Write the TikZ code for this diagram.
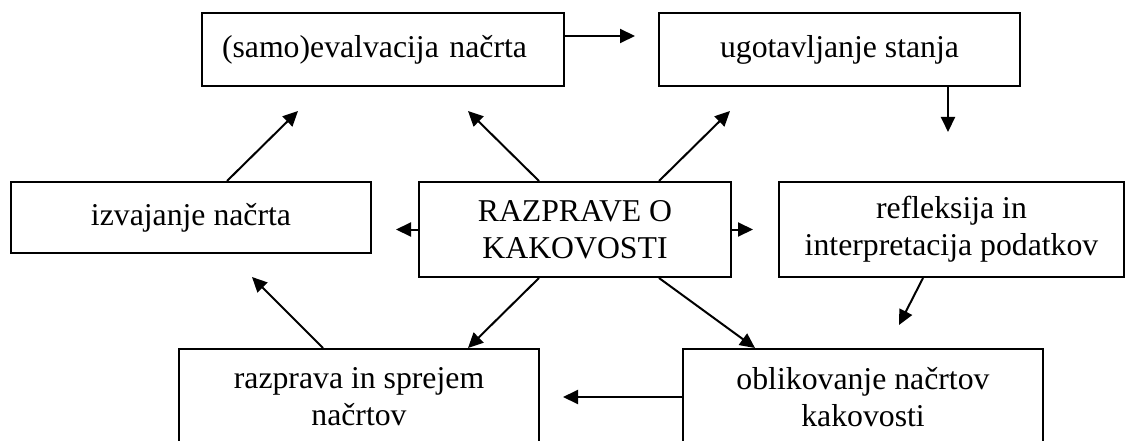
\documentclass[tikz,border=0pt]{standalone}
\usepackage{fontspec}
\setmainfont{Liberation Serif}
\usetikzlibrary{arrows.meta}

\begin{document}
\begin{tikzpicture}[x=1pt, y=-1pt, >={Triangle[length=15pt, width=14pt]},
  box/.style={draw=black, line width=2pt, fill=white, inner sep=0pt, align=center,
    font=\fontsize{31.75}{37}\selectfont},
  conn/.style={draw=black, line width=2pt, ->}]
\useasboundingbox (0, 0) rectangle (1126, 441);
\clip (0, 0) rectangle (1126, 441);
\node[box, minimum width=362pt, minimum height=73pt, text width=322pt, align=left, inner xsep=20pt] (samo) at (383, 49.5) {(samo)evalvacija načrta};
\node[box, minimum width=361pt, minimum height=73pt] (ugot) at (839.5, 49.5) {ugotavljanje stanja};
\node[box, minimum width=360pt, minimum height=71pt] (izv) at (191, 217.5) {izvajanje načrta};
\node[box, minimum width=312pt, minimum height=95pt] (raz) at (575, 229.5) {RAZPRAVE O\\KAKOVOSTI};
\node[box, minimum width=345pt, minimum height=95pt] (refl) at (951.5, 229.5) {refleksija in\\interpretacija podatkov};
\node[box, minimum width=360pt, minimum height=96pt] (razp) at (359, 397) {razprava in sprejem\\načrtov};
\node[box, minimum width=360pt, minimum height=96pt] (obl) at (863, 397) {oblikovanje načrtov\\kakovosti};
\coordinate (t1) at (635, 36);
\coordinate (t2) at (948, 132);
\coordinate (t3) at (899, 325);
\coordinate (t6) at (563, 397);
\coordinate (t7) at (252, 277);
\coordinate (t8) at (298, 111);
\coordinate (t9) at (468, 111);
\coordinate (t10) at (730, 111);
\coordinate (t11) at (396, 229.5);
\coordinate (t12) at (753, 229.5);
\draw [conn] (samo.east |- t1) -- (t1);
\draw [conn] (ugot.south -| t2) -- (t2);
\draw [conn] ([xshift=-28.5pt]refl.south) -- (t3);
\draw [conn] (obl.west) -- (t6);
\draw [conn] ([xshift=-36pt]razp.north) -- (t7);
\draw [conn] ([xshift=36pt]izv.north) -- (t8);
\draw [conn] ([xshift=-36pt]raz.north) -- (t9);
\draw [conn] ([xshift=84pt]raz.north) -- (t10);
\draw [conn] (raz.west) -- (t11);
\draw [conn] (raz.east) -- (t12);
\draw [conn] ([xshift=-36pt]raz.south) -- ([xshift=109pt]razp.north);
\draw [conn] ([xshift=84pt]raz.south) -- ([xshift=-108pt]obl.north);
\end{tikzpicture}
\end{document}
